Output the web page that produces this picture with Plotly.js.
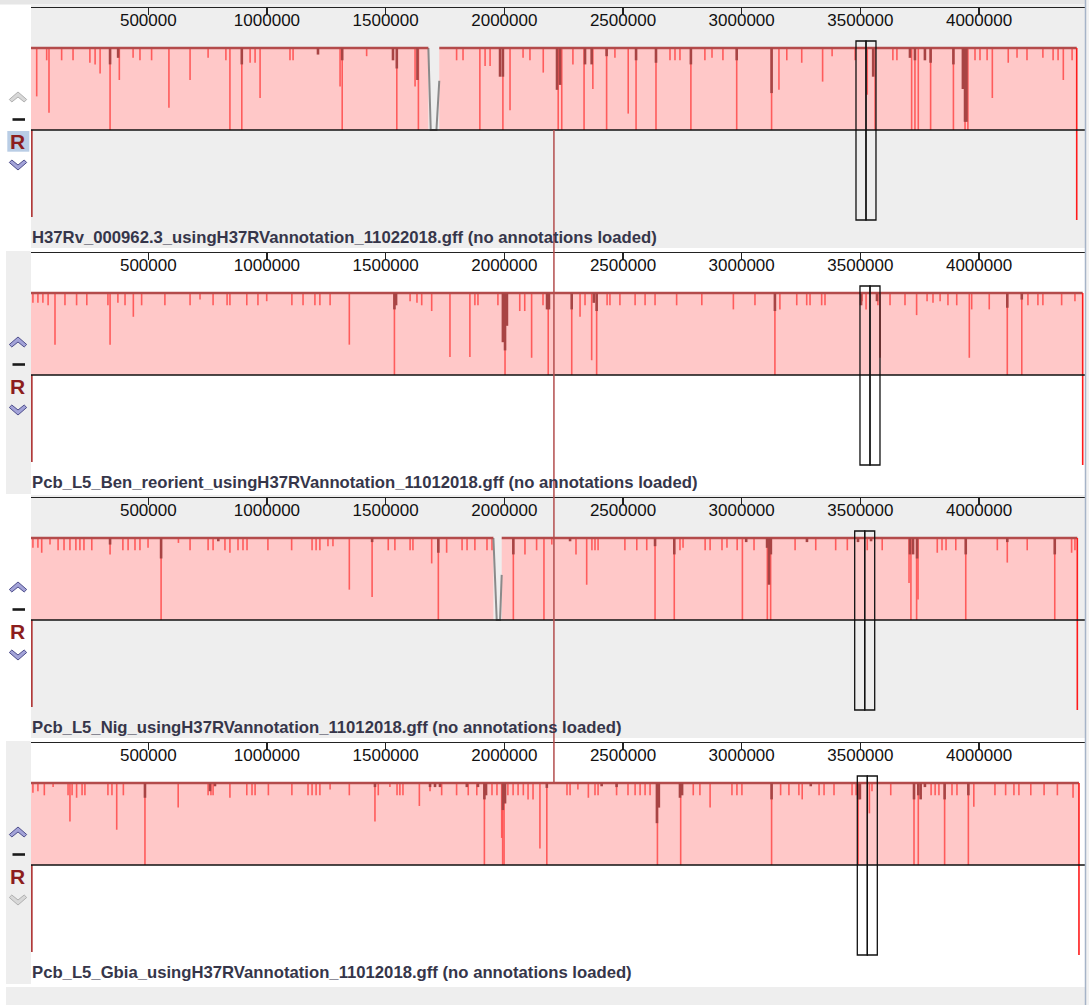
<!DOCTYPE html>
<html><head><meta charset="utf-8">
<script src="https://cdn.plot.ly/plotly-3.0.1.min.js"></script>
<style>html,body{margin:0;padding:0;background:#fff;overflow:hidden}#chart{width:1089px;height:1005px}</style>
</head><body><div id="chart"></div>
<script>
// ---------------- DATA (positions in kb of the reference genome, depth = fraction of block height) ----------------
const genomeLabels = [
  'H37Rv_000962.3_usingH37RVannotation_11022018.gff (no annotations loaded)',
  'Pcb_L5_Ben_reorient_usingH37RVannotation_11012018.gff (no annotations loaded)',
  'Pcb_L5_Nig_usingH37RVannotation_11012018.gff (no annotations loaded)',
  'Pcb_L5_Gbia_usingH37RVannotation_11012018.gff (no annotations loaded)'
];
const tickValues = [500, 1000, 1500, 2000, 2500, 3000, 3500, 4000];
const tickLabels = ['500000','1000000','1500000','2000000','2500000','3000000','3500000','4000000'];

const h37rvSegments = [[0, 1680], [1726, 4411.5]];
const benSegments   = [[0, 4436.7]];
const nigSegments   = [[0, 1954], [1989, 4414]];
const gbiaSegments  = [[0, 4421]];

const h37rvDips = [[29.9,.59],[72,.15],[81.7,.79],[135,.15],[183,.15],[254,.18],[276,.2],[297,.31],[339,1],[378,.39],[436,.12],[465,.15],[514,.15],[587,.73],[676,.39],[752,.12],[827,.15],[844,1],[894,1],[929,.18],[950,.18],[971,.61],[1097,.15],[1110,.15],[1308,.47],[1317,1],[1420,.1],[1547,1],[1624,.47],[1638,1],[1799,.15],[1826,.15],[1897,1],[1919,.22],[1940,.22],[1994,1],[2024,.76],[2079,.12],[2108,.15],[2164,.3],[2227,1],[2242,1],[2289,.2],[2336,1],[2373,.5],[2431,1],[2466,.12],[2522,.8],[2555,1],[2639,1],[2698,.15],[2719,.15],[2740,.15],[2786,1],[2845,.15],[2875,.12],[2921,.15],[2979,1],[3126,1],[3157,.51],[3190,.15],[3253,.18],[3341,.41],[3381,.1],[3478,.15],[3529,.57],[3562,1],[3637,.15],[3654,.15],[3716,1],[3730,1],[3744,1],[3796,1],[3892,1],[3941,1],[3953,1],[3983,.15],[4004,.15],[4034,.15],[4056,.61],[4123,.18],[4160,.12],[4202,.15],[4269,.12],[4312,.15],[4333,.15],[4355,.39],[4392,.15]];
const h37rvDark = [[339,.2],[373,.12],[894,.2],[1215,.08],[1317,.15],[1531,.15],[1547,.25],[1634,.39],[1982,.35],[1994,.35],[2222,.51],[2235,.45],[2340,.2],[2368,.2],[2431,.1],[2555,.15],[2639,.18],[2786,.2],[2979,.15],[3126,.55],[3554,.35],[3709,.12],[3730,.15],[3772,.15],[3796,.18],[3892,.2],[3932,.5],[3941,.9],[3947,.9]];
const h37rvGapX = [1680, 1690, 1714, 1726];
const h37rvGapY = [1, 0, 0, .6];

const benDips = [[14,.12],[35,.12],[56,.12],[78,.15],[107,.63],[149,.15],[198,.15],[241,.15],[330,.15],[339,.63],[372,.12],[402,.15],[437,.29],[472,.15],[570,.15],[676,.15],[718,.08],[773,.15],[832,.15],[844,.15],[915,.15],[962,.15],[999,.1],[1105,.15],[1152,.15],[1202,.15],[1223,.15],[1266,.15],[1347,.63],[1537,1],[1603,.1],[1632,.12],[1652,.15],[1694,.22],[1771,.78],[1855,.78],[1876,.15],[1889,.15],[1973,.15],[2003,1],[2065,.22],[2086,.22],[2115,.79],[2163,.15],[2185,1],[2284,1],[2319,.29],[2340,.15],[2368,.82],[2389,1],[2433,.15],[2445,.15],[2487,.15],[2551,.15],[2593,.15],[2635,.15],[2726,.15],[2832,.15],[2965,.2],[3056,.15],[3140,1],[3161,.2],[3232,.15],[3274,.15],[3288,.15],[3337,.15],[3351,.15],[3507,.1],[3524,.2],[3574,.15],[3583,.79],[3625,.15],[3688,.15],[3737,.27],[3781,.1],[3806,.12],[3836,.1],[3869,.15],[3906,.15],[3959,.79],[3969,.2],[4043,.2],[4119,1],[4180,1],[4206,.15],[4248,.15],[4269,.15],[4348,.15],[4404,.1]];
const benDark = [[1537,.2],[1544,.15],[1994,.6],[2003,.7],[2011,.4],[2180,.2],[2188,.2],[2284,.2],[2377,.12],[2389,.22],[3140,.22],[3503,.15],[3570,.1],[4119,.18],[4180,.08]];

const nigDips = [[14,.12],[35,.12],[51,.18],[86,.08],[120,.15],[145,.15],[170,.15],[195,.15],[212,.15],[229,.15],[262,.15],[339,.2],[393,.15],[415,.15],[444,.15],[465,.15],[499,.12],[554,1],[627,.06],[676,.15],[752,.15],[773,.15],[823,.15],[844,.18],[878,.15],[899,.15],[916,.15],[1004,.15],[1104,.15],[1190,.15],[1207,.15],[1223,.15],[1257,.1],[1278,.1],[1347,.63],[1443,.72],[1511,.15],[1539,.15],[1603,.15],[1615,.15],[1694,.31],[1722,1],[1757,.18],[1822,.15],[1843,.15],[1876,.15],[1927,.15],[1948,.15],[2038,1],[2087,.2],[2136,.15],[2167,1],[2200,.08],[2302,.2],[2347,.57],[2369,.15],[2382,.15],[2395,.15],[2508,.15],[2558,.15],[2600,.15],[2635,1],[2716,1],[2740,.15],[2753,.12],[2846,.15],[2867,.15],[2917,.15],[2938,.12],[2981,.15],[3003,1],[3052,.15],[3108,1],[3122,1],[3225,.15],[3312,.15],[3396,.15],[3445,.15],[3529,.15],[3592,.15],[3705,.55],[3713,1],[3737,1],[3743,.75],[3824,.18],[3844,.15],[3861,.15],[3902,.15],[3944,1],[4077,.15],[4119,.3],[4203,.15],[4319,1],[4390,.18],[4404,.15]];
const nigDark = [[339,.08],[554,.25],[795,.04],[1443,.05],[1722,.18],[2038,.2],[2277,.04],[2635,.1],[2716,.2],[3019,.05],[3107,.12],[3115,.57],[3123,.2],[3275,.05],[3490,.05],[3545,.04],[3709,.2],[3722,.2],[3739,.25],[3944,.2],[4119,.05],[4319,.2]];
const nigGapX = [1954, 1968, 1982, 1989];
const nigGapY = [1, 0, 0, .55];

const gbiaDips = [[14,.12],[35,.1],[62,.15],[99,.05],[162,.15],[170,.47],[179,.15],[198,.18],[221,.15],[233,.15],[330,.15],[347,.15],[367,.57],[395,.15],[486,1],[626,.3],[752,.15],[764,.15],[773,.15],[844,.18],[915,.15],[937,.15],[950,.15],[1006,.15],[1105,.15],[1173,.15],[1190,.15],[1207,.15],[1223,.15],[1266,.08],[1347,.15],[1455,.47],[1469,.15],[1518,.05],[1548,.15],[1560,.15],[1573,.15],[1642,.28],[1687,.1],[1736,.15],[1799,.15],[1848,.15],[1884,.15],[1916,1],[1948,.15],[1969,.15],[1989,.67],[1993,1],[1999,1],[2015,.15],[2037,.15],[2058,.15],[2080,.15],[2100,.2],[2121,.2],[2150,.8],[2179,1],[2264,.15],[2277,.15],[2310,.08],[2354,.18],[2382,.15],[2395,.15],[2473,.15],[2521,.15],[2551,.15],[2572,.15],[2593,.15],[2614,.15],[2645,1],[2743,1],[2796,.15],[2824,.15],[2867,.3],[2959,.15],[2980,.15],[3001,.15],[3126,1],[3164,.15],[3199,.15],[3241,.15],[3255,.2],[3326,.15],[3347,.15],[3389,.15],[3465,.15],[3482,.15],[3491,1],[3538,.37],[3549,.1],[3628,.15],[3726,1],[3744,1],[3798,.15],[3815,.15],[3831,.15],[3855,1],[3886,.15],[3907,.15],[3955,1],[3978,.29],[4067,.15],[4112,.15],[4147,.15],[4168,.15],[4218,.15],[4274,.15],[4330,.15],[4396,.18]];
const gbiaDark = [[486,.18],[760,.1],[781,.04],[1455,.05],[1687,.05],[1708,.05],[1729,.05],[1842,.05],[1889,.05],[1916,.2],[1923,.15],[1994,.33],[2003,.25],[2179,.06],[2410,.04],[2473,.05],[2643,.49],[2651,.3],[2740,.18],[2749,.15],[3126,.2],[3291,.04],[3491,.2],[3498,.2],[3726,.2],[3744,.15],[3754,.2],[3772,.05],[3855,.2],[3955,.15]];

const selectionBoxes = [[3481.6, 3523.7, 3565.8], [3498.4, 3540.6, 3582.7], [3476.1, 3518.3, 3560.4], [3487.1, 3529.3, 3571.4]];
const lcbLeftEdge = [8.8, 8.8, 8.8, 8.8];
const cursorPosition = 2209;

// ---------------- LAYOUT ----------------
const W = 1089, H = 1005;
const PX0 = 31, PX1 = 1085, PX_ORIGIN = 29.6, KB_PER_PX = 4.213;
const xRange = [(PX0 - PX_ORIGIN) * KB_PER_PX, (PX1 - PX_ORIGIN) * KB_PER_PX];
const panelTop = [8, 253, 498, 743];
const PANEL_H = 240, UNIT = 82, CENTER = 122;
const BOX_TOP = 89 / UNIT, BOX_BOTTOM = -90 / UNIT, LEFT_BOTTOM = -87 / UNIT;
const px = x => x / W, py = y => 1 - y / H;

const panels = [
  {seg: h37rvSegments, dips: h37rvDips, dark: h37rvDark, gapX: h37rvGapX, gapY: h37rvGapY, plotGray: true, upOn: false, downOn: true, rSel: true},
  {seg: benSegments, dips: benDips, dark: benDark, plotGray: false, upOn: true, downOn: true, rSel: false},
  {seg: nigSegments, dips: nigDips, dark: nigDark, gapX: nigGapX, gapY: nigGapY, plotGray: true, upOn: true, downOn: true, rSel: false},
  {seg: gbiaSegments, dips: gbiaDips, dark: gbiaDark, plotGray: false, upOn: true, downOn: false, rSel: false}
];

const traces = [], shapes = [], annotations = [];
const layout = {width: W, height: H, margin: {l: 0, r: 0, t: 0, b: 0}, paper_bgcolor: '#ffffff',
  plot_bgcolor: 'rgba(0,0,0,0)', showlegend: false, shapes, annotations, hovermode: false};

function rectPx(x0, y0, x1, y1, color, layer) {
  shapes.push({type: 'rect', xref: 'paper', yref: 'paper', x0: px(x0), x1: px(x1), y0: py(y1), y1: py(y0),
    fillcolor: color, line: {width: 0}, layer: layer || 'below'});
}
function pathPx(pts, fill, stroke) {
  const d = pts.map((p, k) => (k ? 'L' : 'M') + px(p[0]).toFixed(5) + ',' + py(p[1]).toFixed(5)).join(' ') + ' Z';
  shapes.push({type: 'path', xref: 'paper', yref: 'paper', path: d, fillcolor: fill, line: {color: stroke, width: 1}, layer: 'above'});
}
function dipXY(list) {
  const x = [], y = [];
  list.forEach(([p, d]) => { x.push(p, p, null); y.push(1, 1 - d, null); });
  return {x, y};
}

// page decorations
rectPx(0, 0, W, 4.5, '#e6e6e6');
rectPx(6, 987, 1085, H, '#eeeeee');
rectPx(1085, 0, W, H, '#f2f2f2');

panels.forEach((P, i) => {
  const s = i ? String(i + 1) : '';
  const xr = 'x' + s, yr = 'y' + s;
  const top = panelTop[i];
  if (P.plotGray) rectPx(PX0, top - 3, PX1, top + 240, '#eeeeee');
  else rectPx(6, top - 2, PX0, top + 241, '#eeeeee');

  layout['xaxis' + s] = {domain: [px(PX0), px(PX1)], range: xRange, anchor: yr, side: 'top',
    showline: true, linecolor: '#222', linewidth: 1.2, ticks: 'inside', ticklen: 7, tickwidth: 1.2, tickcolor: '#222',
    ticklabelposition: 'inside', tickmode: 'array', tickvals: tickValues, ticktext: tickLabels,
    tickfont: {family: 'Liberation Sans, Arial, sans-serif', size: 17, color: '#111'},
    showgrid: false, zeroline: false, fixedrange: true};
  layout['yaxis' + s] = {domain: [py(top + PANEL_H), py(top)], range: [-(PANEL_H - CENTER) / UNIT, CENTER / UNIT],
    anchor: xr, visible: false, fixedrange: true};

  const base = {type: 'scatter', mode: 'lines', xaxis: xr, yaxis: yr, hoverinfo: 'skip'};
  P.seg.forEach(([a, b]) => traces.push(Object.assign({}, base, {x: [a, b, b, a, a], y: [0, 0, 1, 1, 0], fill: 'toself',
    fillcolor: '#ffc8c8', line: {width: 0, color: 'rgba(0,0,0,0)'}})));
  const L = dipXY(P.dips);
  traces.push(Object.assign({}, base, {x: L.x, y: L.y, line: {color: 'rgba(255,80,80,0.9)', width: 1.6}}));
  if (P.gapX) traces.push(Object.assign({}, base, {x: P.gapX, y: P.gapY, line: {color: '#8a8a8a', width: 2}}));
  P.seg.forEach(([a, b]) => traces.push(Object.assign({}, base, {x: [a, b], y: [1, 1], line: {color: '#b34b4b', width: 2.6}})));
  const D = dipXY(P.dark);
  traces.push(Object.assign({}, base, {x: D.x, y: D.y, line: {color: '#a84444', width: 2.6}}));
  const endPos = P.seg[P.seg.length - 1][1];
  traces.push(Object.assign({}, base, {x: [lcbLeftEdge[i], lcbLeftEdge[i]], y: [0, LEFT_BOTTOM], line: {color: '#b03a3a', width: 2}}));
  traces.push(Object.assign({}, base, {x: [endPos, endPos], y: [1, BOX_BOTTOM], line: {color: '#ff1a1a', width: 1.6}}));

  shapes.push({type: 'line', xref: xr + ' domain', x0: 0, x1: 1, yref: yr, y0: 0, y1: 0, line: {color: '#111', width: 1.4}});
  const bx = selectionBoxes[i];
  for (let k = 0; k < 2; k++) shapes.push({type: 'rect', xref: xr, yref: yr, x0: bx[k], x1: bx[k + 1], y0: BOX_BOTTOM, y1: BOX_TOP,
    line: {color: '#111', width: 1.3}, fillcolor: 'rgba(0,0,0,0)'});

  annotations.push({xref: 'paper', yref: 'paper', x: px(PX0 - 1), y: py(top + 229), xanchor: 'left', yanchor: 'middle',
    text: genomeLabels[i], showarrow: false,
    font: {family: 'Liberation Sans, Arial, sans-serif', size: 16.7, weight: 'bold', color: '#36364a'}});

  const cx = 18;
  const on = ['#a3a3d8', '#4e4e8c'], off = ['#d8d8d8', '#b0b0b0'];
  const t = top + 84, b = top + 162;
  const uc = P.upOn ? on : off, dc = P.downOn ? on : off;
  pathPx([[cx, t], [cx + 8.7, t + 7.5], [cx + 6.2, t + 10], [cx, t + 5], [cx - 6.2, t + 10], [cx - 8.7, t + 7.5]], uc[0], uc[1]);
  pathPx([[cx, b], [cx + 8.7, b - 7.5], [cx + 6.2, b - 10], [cx, b - 5], [cx - 6.2, b - 10], [cx - 8.7, b - 7.5]], dc[0], dc[1]);
  shapes.push({type: 'line', xref: 'paper', yref: 'paper', x0: px(12.5), x1: px(25), y0: py(top + 111.5), y1: py(top + 111.5),
    line: {color: '#1a1a1a', width: 2.6}});
  if (P.rSel) rectPx(7.3, top + 123, 29.3, top + 143.7, '#b9cde5', 'above');
  annotations.push({xref: 'paper', yref: 'paper', x: px(17.6), y: py(top + 133), xanchor: 'center', yanchor: 'middle',
    text: 'R', showarrow: false, font: {family: 'Liberation Sans, Arial, sans-serif', size: 21, weight: 'bold', color: '#8c1d1d'}});
});

shapes.push({type: 'line', xref: 'x', yref: 'paper', x0: cursorPosition, x1: cursorPosition,
  y0: py(panelTop[0] + CENTER), y1: py(panelTop[3] + 40), line: {color: '#b34d4d', width: 1.5}});
shapes.push({type: 'line', xref: 'paper', yref: 'paper', x0: px(1085.5), x1: px(1085.5), y0: 0, y1: 1,
  line: {color: '#a6b4c8', width: 1.5}});

Plotly.newPlot('chart', traces, layout, {displayModeBar: false, staticPlot: true});
</script></body></html>
